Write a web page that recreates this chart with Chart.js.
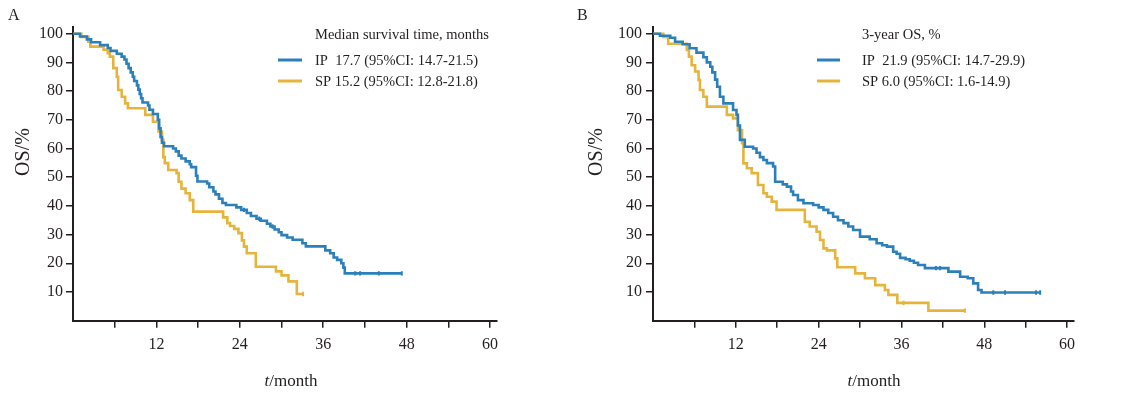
<!DOCTYPE html>
<html><head><meta charset="utf-8">
<script src="https://cdn.jsdelivr.net/npm/chart.js@4/dist/chart.umd.min.js"></script>
<style>
html,body{margin:0;padding:0;background:#fff;width:1124px;height:394px;overflow:hidden}
.p{position:absolute;top:0;width:562px;height:394px}
</style></head><body>
<div class="p" style="left:0"><canvas id="cA" width="562" height="394"></canvas></div>
<div class="p" style="left:562px"><canvas id="cB" width="562" height="394"></canvas></div>
<script>
// ---------- data ----------
const xTicks = [6, 12, 18, 24, 30, 36, 42, 48, 54, 60];
const xLabelled = [12, 24, 36, 48, 60];
const yTicks = [10, 20, 30, 40, 50, 60, 70, 80, 90, 100];

// Panel A
const A_IP_time = [0, 1.0, 2.0, 2.6, 3.9, 5.0, 5.4, 6.3, 7.0, 7.4,
  7.7, 8.0, 8.3, 8.6, 8.8, 9.2, 9.4, 9.6, 9.8, 10.0,
  10.8, 11.0, 11.5, 12.2, 12.4, 12.6, 12.8, 13.1, 14.4, 14.8,
  15.2, 15.6, 16.2, 16.8, 17.0, 17.7, 17.9, 19.3, 19.6, 20.2,
  20.5, 21.0, 21.5, 22.0, 23.5, 24.2, 25.0, 25.6, 26.4, 27.0,
  27.9, 28.4, 29.0, 29.6, 30.0, 30.8, 31.6, 33.0, 33.5, 36.3,
  37.0, 37.5, 38.0, 38.6, 38.9, 39.1, 47.3];
const A_IP_surv = [100, 99, 98, 97, 96, 95, 94, 93, 92, 91,
  89.5, 88, 86.5, 85, 83.5, 82, 80.5, 79, 77.5, 76,
  75, 73.5, 72, 70, 67, 64, 62, 60.8, 60, 59,
  57.5, 56.5, 55.5, 54.5, 53.5, 50.5, 48.5, 47.8, 46.5, 45,
  44, 42.5, 41, 40.3, 39.5, 38.6, 37.5, 36.5, 35.5, 34.8,
  33.8, 32.8, 31.8, 30.8, 29.8, 29, 28.2, 27, 25.9, 24.5,
  23.5, 22, 21.2, 20, 18.5, 16.5, 16.5];
const A_SP_time = [0, 1.2, 2.2, 2.5, 4.4, 5.0, 5.3, 5.8, 6.3, 6.5,
  7.0, 7.5, 7.9, 10.4, 11.5, 12.3, 12.8, 13.0, 13.2, 13.7,
  14.9, 15.2, 15.6, 16.2, 16.8, 17.3, 21.6, 22.2, 22.6, 23.2,
  23.8, 24.3, 24.6, 25.0, 26.3, 29.2, 30.0, 31.0, 32.2, 33.1];
const A_SP_surv = [100, 98.9, 97.2, 95.5, 94.4, 93.2, 92, 88, 85, 80.4,
  78, 75.7, 74, 71.7, 69.3, 65.9, 63, 57, 54.9, 52.5,
  51.4, 48.4, 46, 44.4, 42, 38, 36, 34, 33, 32,
  30.5, 28, 25.8, 23.5, 18.8, 17.2, 15.8, 13.7, 9.3, 9.3];
const A_IP_censor = [24.6, 26.8, 28.7, 40.6, 41.3, 44.0, 47.3];
const A_SP_censor = [33.1];

// Panel B
const B_IP_time = [0, 1.0, 2.5, 3.2, 4.3, 5.3, 6.3, 7.3, 7.8, 8.3,
  8.6, 9.0, 9.3, 9.7, 10.2, 11.6, 12.1, 12.3, 12.6, 13.3,
  14.5, 15.0, 15.5, 16.0, 16.5, 17.4, 17.7, 18.8, 19.4, 20.0,
  20.3, 21.0, 21.8, 23.2, 24.0, 24.7, 25.4, 26.1, 26.8, 27.6,
  28.3, 29.0, 30.0, 31.4, 32.4, 33.2, 33.9, 34.8, 35.3, 35.8,
  36.6, 37.2, 37.8, 38.4, 39.4, 42.8, 44.5, 45.6, 46.4, 47.1,
  47.6, 56.1];
const B_IP_surv = [100, 99.3, 98.6, 97.2, 96.3, 94.9, 93.4, 91.8, 90, 88.5,
  86.5, 84, 81.5, 78, 75.7, 73.4, 71.7, 68, 63, 60.6,
  60, 58.5, 57, 56, 54.9, 53.7, 48.4, 47.5, 46.7, 45,
  43.8, 42, 40.9, 40.3, 39.5, 38.6, 37.5, 36.2, 35, 34,
  32.8, 31.6, 29.3, 28.4, 27, 26.3, 25.8, 24, 23.3, 21.9,
  21.4, 20.9, 20.2, 19.4, 18.3, 17.1, 15.3, 14.8, 13, 10.7,
  9.8, 9.8];
const B_SP_time = [0, 1.5, 2.2, 4.9, 5.2, 5.6, 6.1, 6.6, 6.8, 7.3,
  7.8, 10.7, 11.6, 12.3, 12.9, 13.1, 13.6, 14.3, 15.2, 16.0,
  16.5, 17.2, 17.9, 22.0, 22.7, 23.7, 24.2, 24.7, 25.2, 26.4,
  26.7, 29.3, 30.7, 32.2, 33.6, 34.1, 35.4, 39.9, 45.2];
const B_SP_surv = [100, 98.9, 96.5, 94.3, 92, 89, 86.8, 83.9, 80.4, 78,
  74.6, 71.7, 70.5, 66.4, 61.8, 54.8, 53.1, 51.4, 47.3, 44.4,
  43.2, 41.5, 38.6, 34.5, 32.8, 31, 28.1, 25.2, 24.5, 21.7,
  18.6, 16.5, 14.8, 12.4, 10.7, 9, 6.2, 3.5, 3.5];
const B_IP_censor = [41.0, 41.6, 49.3, 51.0, 55.5, 56.1];
const B_SP_censor = [36.3, 45.2];

const seriesNames = ['IP', 'SP'];
const legendA = { header: 'Median survival time, months',
  items: ['IP  17.7 (95%CI: 14.7-21.5)', 'SP 15.2 (95%CI: 12.8-21.8)'] };
const legendB = { header: '3-year OS, %',
  items: ['IP  21.9 (95%CI: 14.7-29.9)', 'SP 6.0 (95%CI: 1.6-14.9)'] };
const xTitleItalic = 't', xTitleRest = '/month', yTitle = 'OS/%';

// ---------- styling ----------
const BLUE = '#2b80bb', GOLD = '#e7b43b', INK = '#231f20';
const SERIF = '"Liberation Serif", "Times New Roman", serif';

function pts(t, s) { return t.map((v, i) => ({ x: v, y: s[i] })); }
function survAt(t, s, x) { let v = s[0]; for (let i = 0; i < t.length; i++) { if (t[i] <= x) v = s[i]; } return v; }
function censorPts(ct, t, s) { return ct.map(x => ({ x: x, y: survAt(t, s, x) })); }

const textPlugin = {
  id: 'texts',
  afterDraw(chart, args, o) {
    const ctx = chart.ctx;
    ctx.save();
    ctx.fillStyle = INK;
    ctx.font = '16px ' + SERIF;
    ctx.textBaseline = 'alphabetic'; ctx.textAlign = 'left';
    ctx.fillText(o.letter, o.letterX, 20);
    ctx.save();
    ctx.translate(o.yTitleX, o.yTitleY);
    ctx.rotate(-Math.PI / 2);
    ctx.font = '20px ' + SERIF;
    ctx.textAlign = 'center'; ctx.textBaseline = 'middle';
    ctx.fillText(yTitle, 0, 0);
    ctx.restore();
    ctx.font = 'italic 17px ' + SERIF;
    const w1 = ctx.measureText(xTitleItalic).width;
    ctx.font = '17px ' + SERIF;
    const w2 = ctx.measureText(xTitleRest).width;
    let sx = o.xTitleX - (w1 + w2) / 2;
    ctx.textBaseline = 'middle'; ctx.textAlign = 'left';
    ctx.font = 'italic 17px ' + SERIF;
    ctx.fillText(xTitleItalic, sx, 382);
    ctx.font = '17px ' + SERIF;
    ctx.fillText(xTitleRest, sx + w1, 382);
    ctx.font = '14.5px ' + SERIF;
    ctx.fillText(o.legend.header, o.legTextX, 35);
    const cols = [BLUE, GOLD];
    o.legend.items.forEach((txt, i) => {
      const y = 61 + i * 21;
      ctx.strokeStyle = cols[i]; ctx.lineWidth = 3;
      ctx.beginPath(); ctx.moveTo(o.legLineX0, y - 1); ctx.lineTo(o.legLineX1, y - 1); ctx.stroke();
      ctx.fillStyle = INK;
      ctx.fillText(txt, o.legTextX, y);
    });
    ctx.restore();
  }
};

function makeChart(id, d, geo) {
  const tickFont = { family: SERIF, size: 16 };
  return new Chart(document.getElementById(id), {
    type: 'line',
    data: {
      datasets: [
        { label: seriesNames[0], data: pts(d.ipT, d.ipS), borderColor: BLUE, borderWidth: 2.6, stepped: 'before', pointRadius: 0, fill: false },
        { label: seriesNames[1], data: pts(d.spT, d.spS), borderColor: GOLD, borderWidth: 2.6, stepped: 'before', pointRadius: 0, fill: false },
        { label: seriesNames[0] + ' censored', type: 'scatter', data: censorPts(d.ipC, d.ipT, d.ipS), pointStyle: 'line', rotation: 90, radius: 2.2, borderColor: BLUE, borderWidth: 2, showLine: false },
        { label: seriesNames[1] + ' censored', type: 'scatter', data: censorPts(d.spC, d.spT, d.spS), pointStyle: 'line', rotation: 90, radius: 2.2, borderColor: GOLD, borderWidth: 2, showLine: false }
      ]
    },
    options: {
      responsive: false, animation: false, devicePixelRatio: 1,
      layout: { padding: { left: 0, top: 26.5, right: geo.padRight, bottom: 0 } },
      plugins: { legend: { display: false }, tooltip: { enabled: false }, texts: geo.texts },
      scales: {
        x: {
          type: 'linear', min: 0, max: 61,
          afterBuildTicks: s => { s.ticks = xTicks.map(v => ({ value: v })); },
          afterFit: s => { s.height = 394 - 320.7; },
          ticks: { autoSkip: false, maxRotation: 0, font: tickFont, color: INK, padding: 7,
            callback: v => xLabelled.includes(v) ? String(v) : '' },
          grid: { display: true, drawOnChartArea: false, drawTicks: true, tickLength: 7, color: INK, lineWidth: 1.5 },
          border: { display: true, color: INK, width: 2 }
        },
        y: {
          type: 'linear', min: 0, max: 102.5,
          afterBuildTicks: s => { s.ticks = yTicks.map(v => ({ value: v })); },
          afterFit: s => { s.width = geo.axisX; },
          ticks: { autoSkip: false, font: tickFont, color: INK, padding: geo.yPad },
          grid: { display: true, drawOnChartArea: false, drawTicks: true, tickLength: 7, color: INK, lineWidth: 1.5 },
          border: { display: true, color: INK, width: 2 }
        }
      }
    },
    plugins: [textPlugin]
  });
}

makeChart('cA',
  { ipT: A_IP_time, ipS: A_IP_surv, spT: A_SP_time, spS: A_SP_surv, ipC: A_IP_censor, spC: A_SP_censor },
  { axisX: 73, padRight: 65, yPad: 3,
    texts: { letter: 'A', letterX: 8, yTitleX: 24, yTitleY: 152, xTitleX: 291,
      legend: legendA, legLineX0: 278, legLineX1: 302, legTextX: 315 } });
makeChart('cB',
  { ipT: B_IP_time, ipS: B_IP_surv, spT: B_SP_time, spS: B_SP_surv, ipC: B_IP_censor, spC: B_SP_censor },
  { axisX: 91, padRight: 50, yPad: 4,
    texts: { letter: 'B', letterX: 15, yTitleX: 35, yTitleY: 152, xTitleX: 312,
      legend: legendB, legLineX0: 255, legLineX1: 278, legTextX: 300 } });
</script>
</body></html>
